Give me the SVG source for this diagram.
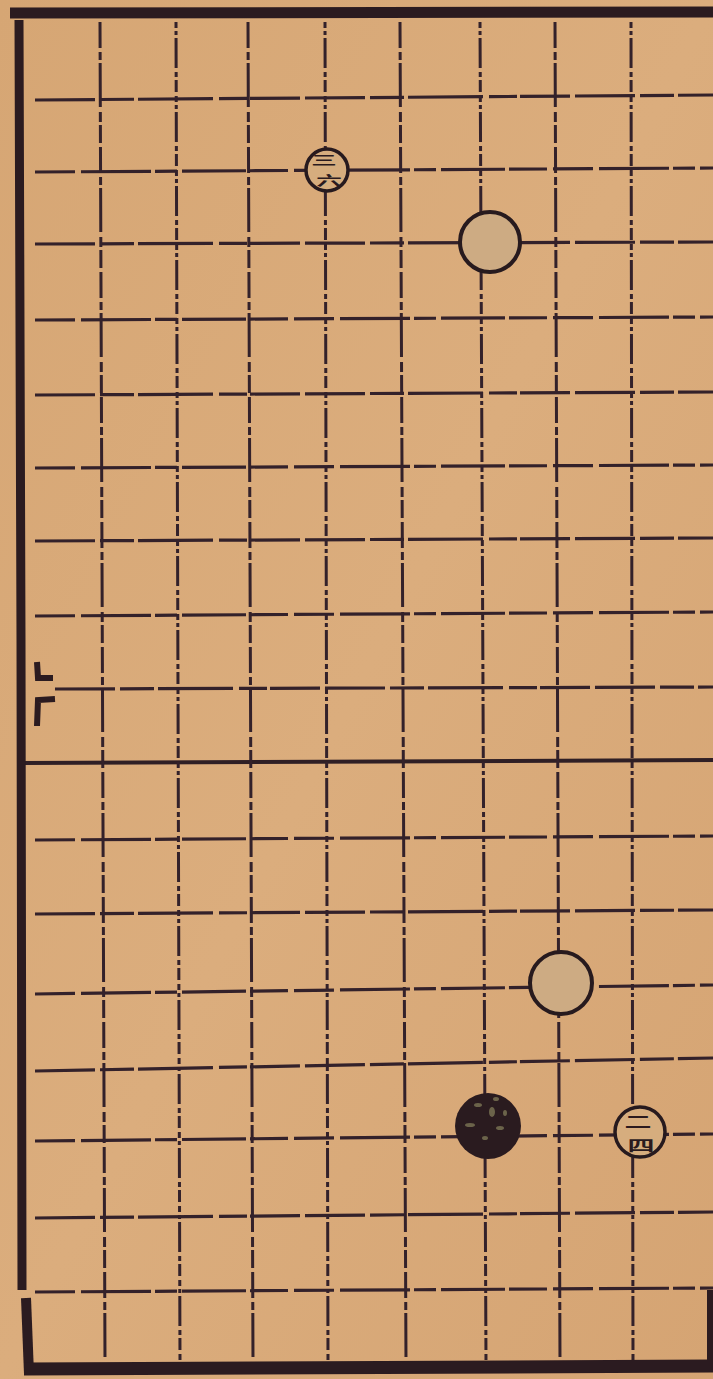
<svg xmlns="http://www.w3.org/2000/svg" width="713" height="1379" viewBox="0 0 713 1379">
<defs>
<linearGradient id="paper" x1="0" y1="0" x2="1" y2="1">
<stop offset="0" stop-color="#d6a674"/>
<stop offset="0.5" stop-color="#dbad7d"/>
<stop offset="1" stop-color="#d5a473"/>
</linearGradient>
<style>
.b{fill:none;stroke:#2b1b20;stroke-linecap:butt}
.h{fill:none;stroke:#33212a;stroke-width:3.2;stroke-dasharray:60 5 34 4 75 6 28 3 50 5}
.h2{fill:none;stroke:#33212a;stroke-width:3.2;stroke-dasharray:40 6 70 4 22 5 64 4 38 6}
.v{fill:none;stroke:#33212a;stroke-width:3;stroke-dasharray:26 4 8 3 44 5 10 3 18 4}
.v2{fill:none;stroke:#33212a;stroke-width:3;stroke-dasharray:6 3 4 3 30 4 5 3 12 4}
.stoneW{fill:#cdab83;stroke:#271a1e;stroke-width:4}
.stoneN{fill:#d6ad7e;stroke:#271a1e;stroke-width:3.5}
.num{font-family:"Noto Sans CJK SC","Noto Sans CJK JP",sans-serif;font-weight:700;fill:#2a1a1e}
</style>
</defs>
<rect x="0" y="0" width="713" height="1379" fill="url(#paper)"/>

<g id="grid">
<g id="rows">
<polyline class="h" points="35,100 713,95"/>
<polyline class="h2" points="35,172 713,168"/>
<polyline class="h" points="35,244 713,242"/>
<polyline class="h2" points="35,320 713,317"/>
<polyline class="h" points="35,395 713,392"/>
<polyline class="h2" points="35,468 713,465"/>
<polyline class="h" points="35,541 713,538"/>
<polyline class="h2" points="35,616 713,612"/>
<polyline class="h" points="55,689 713,687"/>
<polyline fill="none" stroke="#2f1f25" stroke-width="4" points="24,763 713,760"/>
<polyline class="h2" points="35,840 713,836"/>
<polyline class="h" points="35,914 713,910"/>
<polyline class="h2" points="35,994 713,985"/>
<polyline class="h" points="35,1071 713,1058"/>
<polyline class="h2" points="35,1141 713,1134"/>
<polyline class="h" points="35,1218 713,1212"/>
<polyline class="h2" points="35,1292 713,1288"/>
</g>
<g id="cols">
<polyline class="v" points="100,22 105,1362"/>
<polyline class="v2" points="176,22 180,1362"/>
<polyline class="v" points="248,22 253,1362"/>
<polyline class="v2" points="325,22 328,1362"/>
<polyline class="v" points="400,22 406,1362"/>
<polyline class="v2" points="480,22 486,1362"/>
<polyline class="v" points="555,22 560,1362"/>
<polyline class="v2" points="631,22 633,1362"/>
</g>
</g>

<g id="border">
<path class="b" stroke-width="11" d="M10,13 L713,12"/>
<path class="b" stroke-width="9" d="M19,20 L21,640 L22,1290"/>
<path class="b" stroke-width="10" d="M26,1298 L29,1374"/>
<path class="b" stroke-width="13" d="M24,1369 L713,1366"/>
<path class="b" stroke-width="6" d="M710,1290 L710,1362"/>
<path class="b" stroke-width="6" d="M37,662 L38,678 L53,678"/>
<path class="b" stroke-width="6" d="M37,726 L38,700 L55,699"/>
</g>

<g id="stone-36">
<circle class="stoneN" cx="327" cy="170" r="21"/>
<text class="num" transform="translate(324,160) scale(1.7,0.8)" font-size="15" text-anchor="middle" dominant-baseline="central">三</text>
<text class="num" transform="translate(329,180) scale(1.6,0.8)" font-size="16" text-anchor="middle" dominant-baseline="central">六</text>
</g>

<g id="stone-white-1">
<circle class="stoneW" cx="490" cy="242" r="30"/>
</g>

<g id="stone-white-2">
<circle class="stoneW" cx="561" cy="983" r="31" fill="#d5ae80"/>
</g>

<g id="stone-black">
<circle cx="488" cy="1126" r="33" fill="#2a1b1f"/>
<g fill="#7c7655" opacity="0.8">
<ellipse cx="478" cy="1105" rx="4" ry="2"/>
<ellipse cx="492" cy="1112" rx="3" ry="5"/>
<ellipse cx="470" cy="1125" rx="5" ry="2"/>
<ellipse cx="500" cy="1128" rx="4" ry="2"/>
<ellipse cx="485" cy="1138" rx="3" ry="2"/>
<ellipse cx="505" cy="1113" rx="2" ry="3"/>
<ellipse cx="496" cy="1099" rx="3" ry="2"/>
</g>
</g>

<g id="stone-24">
<circle class="stoneN" cx="640" cy="1132" r="25"/>
<text class="num" transform="translate(638,1120) scale(1.5,0.85)" font-size="18" text-anchor="middle" dominant-baseline="central">二</text>
<text class="num" transform="translate(641,1144) scale(1.5,0.85)" font-size="18" text-anchor="middle" dominant-baseline="central">四</text>
</g>
</svg>
